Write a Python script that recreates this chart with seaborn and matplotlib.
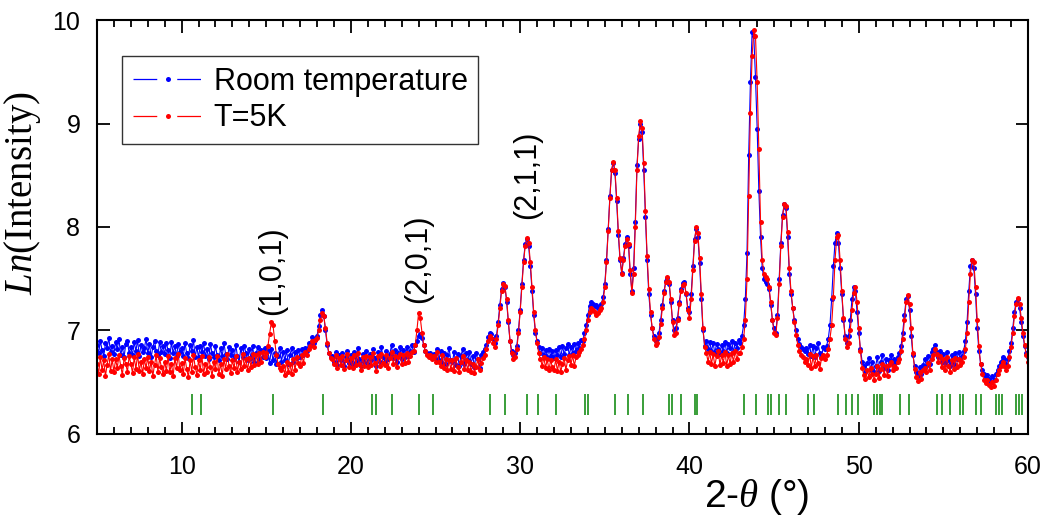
import matplotlib
matplotlib.use("Agg")
import matplotlib.pyplot as plt
import seaborn as sns
import pandas as pd
import numpy as np
from matplotlib.lines import Line2D
from matplotlib.ticker import MultipleLocator

# 2-theta scan, 5 to 60 degrees in 0.1 degree steps
twoTheta = np.linspace(5, 60, 551)

# Ln(Intensity) at room temperature, one row per degree
roomTemp = [
	6.86, 6.78, 6.90, 6.81, 6.75, 6.88, 6.83, 6.93, 6.79, 6.85,
	6.77, 6.89, 6.82, 6.92, 6.76, 6.84, 6.74, 6.87, 6.90, 6.78,
	6.84, 6.76, 6.89, 6.80, 6.91, 6.75, 6.86, 6.79, 6.83, 6.92,
	6.78, 6.87, 6.74, 6.84, 6.90, 6.80, 6.76, 6.89, 6.79, 6.85,
	6.77, 6.88, 6.81, 6.73, 6.89, 6.78, 6.85, 6.75, 6.87, 6.79,
	6.83, 6.75, 6.88, 6.78, 6.73, 6.86, 6.80, 6.91, 6.74, 6.84,
	6.74, 6.85, 6.79, 6.88, 6.75, 6.82, 6.72, 6.87, 6.78, 6.74,
	6.85, 6.76, 6.71, 6.83, 6.75, 6.88, 6.77, 6.72, 6.84, 6.76,
	6.81, 6.72, 6.86, 6.75, 6.70, 6.83, 6.74, 6.85, 6.78, 6.71,
	6.82, 6.73, 6.85, 6.70, 6.78, 6.84, 6.72, 6.81, 6.74, 6.83,
	6.73, 6.80, 6.69, 6.82, 6.71, 6.78, 6.68, 6.75, 6.83, 6.70,
	6.79, 6.71, 6.81, 6.68, 6.76, 6.83, 6.70, 6.79, 6.73, 6.81,
	6.74, 6.82, 6.76, 6.83, 6.80, 6.88, 6.86, 6.94, 6.88, 6.91,
	6.95, 7.04, 7.15, 7.20, 7.14, 7.00, 6.86, 6.78, 6.74, 6.75,
	6.70, 6.79, 6.67, 6.76, 6.71, 6.78, 6.66, 6.74, 6.80, 6.69,
	6.76, 6.67, 6.79, 6.70, 6.83, 6.72, 6.66, 6.77, 6.70, 6.80,
	6.68, 6.77, 6.71, 6.82, 6.73, 6.66, 6.79, 6.70, 6.84, 6.74,
	6.70, 6.80, 6.72, 6.77, 6.86, 6.73, 6.81, 6.70, 6.78, 6.84,
	6.72, 6.81, 6.74, 6.84, 6.75, 6.80, 6.86, 6.79, 6.86, 6.90,
	6.95, 6.97, 6.93, 6.86, 6.80, 6.78, 6.75, 6.78, 6.74, 6.77,
	6.72, 6.82, 6.71, 6.80, 6.69, 6.78, 6.68, 6.76, 6.83, 6.71,
	6.70, 6.79, 6.67, 6.77, 6.66, 6.75, 6.82, 6.68, 6.78, 6.71,
	6.79, 6.68, 6.75, 6.65, 6.78, 6.72, 6.64, 6.76, 6.79, 6.82,
	6.86, 6.94, 6.98, 6.97, 6.92, 6.88, 6.95, 7.08, 7.25, 7.40,
	7.46, 7.42, 7.28, 7.08, 6.90, 6.80, 6.76, 6.78, 6.85, 7.00,
	7.20, 7.45, 7.68, 7.84, 7.88, 7.82, 7.62, 7.38, 7.15, 6.98,
	6.90, 6.84, 6.78, 6.83, 6.76, 6.81, 6.74, 6.82, 6.75, 6.80,
	6.73, 6.81, 6.76, 6.84, 6.74, 6.85, 6.77, 6.83, 6.87, 6.76,
	6.84, 6.78, 6.87, 6.80, 6.88, 6.83, 6.91, 6.90, 6.98, 7.05,
	7.15, 7.24, 7.28, 7.26, 7.24, 7.25, 7.22, 7.24, 7.26, 7.32,
	7.45, 7.68, 7.98, 8.30, 8.55, 8.62, 8.52, 8.25, 7.92, 7.68,
	7.56, 7.70, 7.84, 7.90, 7.82, 7.55, 7.38, 7.60, 8.05, 8.60,
	8.85, 9.00, 8.92, 8.55, 8.10, 7.68, 7.35, 7.15, 7.02, 6.95,
	6.90, 6.92, 6.98, 7.10, 7.25, 7.38, 7.48, 7.51, 7.45, 7.28,
	7.10, 7.00, 7.02, 7.12, 7.28, 7.40, 7.46, 7.47, 7.35, 7.22,
	7.18, 7.35, 7.62, 7.88, 7.98, 7.90, 7.65, 7.30, 7.00, 6.85,
	6.90, 6.82, 6.89, 6.80, 6.88, 6.78, 6.87, 6.82, 6.77, 6.86,
	6.80, 6.89, 6.78, 6.87, 6.83, 6.90, 6.79, 6.88, 6.83, 6.91,
	6.88, 6.95, 7.05, 7.30, 7.75, 8.70, 9.40, 9.88, 9.85, 9.45,
	8.95, 8.35, 7.90, 7.60, 7.50, 7.47, 7.45, 7.40, 7.25, 7.10,
	7.02, 6.98, 7.15, 7.50, 7.85, 8.12, 8.22, 8.18, 7.90, 7.55,
	7.35, 7.22, 7.10, 7.00, 6.92, 6.87, 6.84, 6.82, 6.80, 6.83,
	6.77, 6.86, 6.75, 6.85, 6.74, 6.83, 6.88, 6.78, 6.74, 6.84,
	6.82, 6.85, 6.92, 7.05, 7.30, 7.62, 7.85, 7.94, 7.85, 7.60,
	7.35, 7.10, 6.95, 6.88, 6.95, 7.10, 7.30, 7.42, 7.38, 7.18,
	6.98, 6.82, 6.70, 6.66, 6.60, 6.69, 6.73, 6.62, 6.70, 6.60,
	6.66, 6.74, 6.61, 6.70, 6.76, 6.64, 6.72, 6.62, 6.71, 6.76,
	6.68, 6.72, 6.70, 6.74, 6.78, 6.85, 6.98, 7.15, 7.30, 7.33,
	7.20, 6.95, 6.76, 6.66, 6.60, 6.56, 6.65, 6.58, 6.67, 6.72,
	6.66, 6.75, 6.68, 6.79, 6.82, 6.86, 6.79, 6.74, 6.80, 6.70,
	6.77, 6.69, 6.79, 6.71, 6.66, 6.76, 6.68, 6.78, 6.72, 6.79,
	6.72, 6.75, 6.80, 6.90, 7.08, 7.38, 7.62, 7.68, 7.60, 7.35,
	7.02, 6.80, 6.68, 6.62, 6.58, 6.55, 6.57, 6.53, 6.50, 6.56,
	6.52, 6.58, 6.62, 6.66, 6.70, 6.74, 6.72, 6.68, 6.72, 6.80,
	6.88, 7.02, 7.18, 7.28, 7.30, 7.22, 7.08, 6.95, 6.85, 6.78,
	6.74,
]

# Ln(Intensity) at T = 5 K
lowTemp = [
	6.68, 6.58, 6.74, 6.62, 6.71, 6.56, 6.67, 6.77, 6.61, 6.72,
	6.60, 6.72, 6.64, 6.76, 6.66, 6.57, 6.73, 6.68, 6.60, 6.75,
	6.68, 6.59, 6.74, 6.63, 6.77, 6.61, 6.70, 6.58, 6.72, 6.64,
	6.74, 6.61, 6.70, 6.56, 6.67, 6.76, 6.60, 6.73, 6.65, 6.58,
	6.70, 6.61, 6.75, 6.60, 6.68, 6.56, 6.73, 6.64, 6.77, 6.62,
	6.69, 6.58, 6.73, 6.63, 6.55, 6.71, 6.60, 6.76, 6.65, 6.57,
	6.71, 6.62, 6.75, 6.58, 6.68, 6.60, 6.74, 6.65, 6.56, 6.70,
	6.63, 6.75, 6.58, 6.68, 6.56, 6.72, 6.63, 6.77, 6.66, 6.59,
	6.71, 6.64, 6.75, 6.60, 6.70, 6.63, 6.77, 6.66, 6.72, 6.62,
	6.73, 6.65, 6.77, 6.67, 6.76, 6.68, 6.78, 6.70, 6.79, 6.74,
	6.78, 6.85, 6.97, 7.08, 7.05, 6.90, 6.76, 6.68, 6.64, 6.62,
	6.66, 6.57, 6.70, 6.60, 6.68, 6.58, 6.72, 6.62, 6.74, 6.69,
	6.66, 6.76, 6.69, 6.79, 6.76, 6.82, 6.85, 6.90, 6.84, 6.91,
	6.93, 7.00, 7.10, 7.17, 7.14, 7.02, 6.88, 6.78, 6.73, 6.72,
	6.68, 6.76, 6.64, 6.73, 6.67, 6.75, 6.63, 6.71, 6.77, 6.65,
	6.73, 6.64, 6.76, 6.67, 6.78, 6.68, 6.62, 6.74, 6.66, 6.75,
	6.65, 6.74, 6.67, 6.78, 6.69, 6.61, 6.75, 6.66, 6.77, 6.69,
	6.67, 6.76, 6.64, 6.73, 6.79, 6.68, 6.75, 6.65, 6.74, 6.77,
	6.68, 6.76, 6.69, 6.78, 6.70, 6.75, 6.79, 6.80, 6.86, 7.00,
	7.17, 7.12, 6.98, 6.86, 6.80, 6.76, 6.74, 6.76, 6.72, 6.75,
	6.70, 6.79, 6.70, 6.66, 6.76, 6.64, 6.72, 6.62, 6.71, 6.63,
	6.71, 6.61, 6.73, 6.65, 6.60, 6.70, 6.75, 6.63, 6.71, 6.62,
	6.70, 6.60, 6.68, 6.59, 6.65, 6.72, 6.62, 6.69, 6.73, 6.76,
	6.82, 6.90, 6.95, 6.93, 6.88, 6.84, 6.92, 7.05, 7.22, 7.38,
	7.45, 7.43, 7.30, 7.10, 6.90, 6.78, 6.72, 6.74, 6.82, 6.98,
	7.18, 7.42, 7.66, 7.82, 7.89, 7.85, 7.66, 7.42, 7.18, 7.00,
	6.88, 6.78, 6.72, 6.66, 6.74, 6.64, 6.72, 6.62, 6.71, 6.65,
	6.62, 6.72, 6.61, 6.70, 6.60, 6.68, 6.73, 6.62, 6.71, 6.75,
	6.67, 6.76, 6.66, 6.74, 6.76, 6.79, 6.82, 6.86, 6.92, 7.00,
	7.10, 7.18, 7.22, 7.20, 7.18, 7.15, 7.17, 7.20, 7.22, 7.28,
	7.42, 7.66, 7.96, 8.28, 8.55, 8.63, 8.55, 8.28, 7.96, 7.70,
	7.55, 7.68, 7.82, 7.88, 7.84, 7.58, 7.36, 7.55, 8.00, 8.55,
	8.88, 9.02, 8.96, 8.62, 8.15, 7.72, 7.40, 7.18, 7.02, 6.92,
	6.86, 6.88, 6.94, 7.06, 7.22, 7.36, 7.47, 7.52, 7.47, 7.30,
	7.08, 6.96, 6.98, 7.10, 7.26, 7.38, 7.44, 7.45, 7.36, 7.20,
	7.12, 7.30, 7.58, 7.86, 8.00, 7.94, 7.70, 7.35, 7.02, 6.84,
	6.78, 6.70, 6.79, 6.68, 6.77, 6.66, 6.75, 6.80, 6.67, 6.76,
	6.69, 6.79, 6.66, 6.76, 6.68, 6.78, 6.70, 6.80, 6.72, 6.78,
	6.78, 6.84, 6.92, 7.10, 7.50, 8.30, 9.10, 9.65, 9.90, 9.85,
	9.40, 8.75, 8.05, 7.68, 7.55, 7.52, 7.50, 7.42, 7.28, 7.10,
	6.98, 6.96, 7.12, 7.45, 7.82, 8.10, 8.22, 8.20, 7.95, 7.60,
	7.38, 7.22, 7.08, 6.96, 6.86, 6.80, 6.76, 6.74, 6.70, 6.72,
	6.67, 6.77, 6.64, 6.75, 6.66, 6.76, 6.69, 6.63, 6.73, 6.76,
	6.72, 6.76, 6.82, 6.92, 7.05, 7.32, 7.68, 7.90, 7.92, 7.68,
	7.38, 7.12, 6.92, 6.84, 6.88, 7.00, 7.20, 7.36, 7.42, 7.28,
	7.02, 6.80, 6.64, 6.57, 6.53, 6.62, 6.55, 6.64, 6.58, 6.52,
	6.58, 6.66, 6.54, 6.63, 6.68, 6.57, 6.66, 6.56, 6.67, 6.70,
	6.62, 6.66, 6.64, 6.70, 6.72, 6.80, 6.92, 7.10, 7.28, 7.34,
	7.26, 7.02, 6.78, 6.63, 6.55, 6.51, 6.60, 6.53, 6.62, 6.64,
	6.60, 6.69, 6.62, 6.72, 6.76, 6.82, 6.77, 6.70, 6.75, 6.65,
	6.72, 6.62, 6.74, 6.66, 6.60, 6.71, 6.63, 6.73, 6.65, 6.72,
	6.67, 6.70, 6.74, 6.82, 6.98, 7.28, 7.55, 7.68, 7.66, 7.42,
	7.10, 6.85, 6.68, 6.58, 6.52, 6.49, 6.52, 6.47, 6.45, 6.50,
	6.46, 6.52, 6.58, 6.62, 6.66, 6.70, 6.66, 6.62, 6.66, 6.74,
	6.84, 6.98, 7.14, 7.26, 7.31, 7.26, 7.12, 6.98, 6.86, 6.76,
	6.70,
]

# Bragg reflection positions (green markers)
braggPeaks = [10.59, 11.12, 15.38, 18.33, 21.23, 21.46, 22.40, 24.03, 24.83,
	28.21, 29.10, 30.38, 31.07, 32.11, 33.82, 34.02, 35.60, 36.35, 37.23,
	38.79, 38.94, 39.48, 40.30, 40.46, 43.24, 43.91, 44.65, 44.79, 45.30,
	45.73, 47.01, 47.35, 48.79, 49.22, 49.61, 49.97, 50.91, 51.09, 51.25,
	51.38, 52.43, 52.98, 54.60, 54.89, 55.38, 56.01, 56.17, 56.90, 57.21,
	58.10, 58.28, 58.47, 59.28, 59.48, 59.66]

# Miller index labels and where they sit
peakLabels = ["(1,0,1)", "(2,0,1)", "(2,1,1)"]
peakLabelX = [15.34, 23.96, 30.40]
peakLabelY = [7.58, 7.69, 8.50]

seriesNames = ["Room temperature", "T=5K"]
seriesColors = ["#0000ff", "#ff0000"]

n = len(twoTheta)
data = pd.DataFrame({
	"twoTheta": np.concatenate([twoTheta, twoTheta]),
	"lnI": roomTemp[:n] + lowTemp[:n],
	"series": [seriesNames[0]] * n + [seriesNames[1]] * n,
})

sns.set_theme(style="ticks")
plt.rcParams["font.family"] = ["Liberation Sans", "DejaVu Sans"]
plt.rcParams["mathtext.fontset"] = "custom"
plt.rcParams["mathtext.rm"] = "Liberation Serif"
plt.rcParams["mathtext.it"] = "Liberation Serif:italic"
plt.rcParams["mathtext.bf"] = "Liberation Serif:bold"
for key in ["text.color", "axes.labelcolor", "xtick.color", "ytick.color", "axes.edgecolor"]:
	plt.rcParams[key] = "black"

fig = plt.figure(figsize=(10.46, 5.24), dpi=100)
ax = fig.add_axes([0.0927, 0.1718, 0.8901, 0.7900])

sns.lineplot(
	data=data, x="twoTheta", y="lnI", hue="series",
	hue_order=seriesNames, palette=seriesColors,
	marker="o", markersize=3.6, markeredgewidth=0, linewidth=0.8,
	estimator=None, legend=False, ax=ax,
)

ax.vlines(braggPeaks, 6.18, 6.39, color="#2a962a", linewidth=1.3)

for label, lx, ly in zip(peakLabels, peakLabelX, peakLabelY):
	ax.text(lx, ly, label, rotation=90, ha="center", va="center", fontsize=22)

ax.set_xlim(5, 60)
ax.set_ylim(6, 10)
ax.xaxis.set_major_locator(MultipleLocator(10))
ax.xaxis.set_minor_locator(MultipleLocator(1))
ax.yaxis.set_major_locator(MultipleLocator(1))
ax.tick_params(which="both", direction="in", top=True, right=True, width=1.3, color="black")
ax.tick_params(which="major", length=9)
ax.tick_params(which="minor", length=5)
ax.tick_params(axis="y", labelsize=18, pad=12)
ax.tick_params(axis="x", labelsize=18, pad=15)
for lab in ax.get_xticklabels():
	lab.set_family(["Liberation Sans Narrow", "Liberation Sans"])
for spine in ax.spines.values():
	spine.set_linewidth(1.5)
	spine.set_color("black")

ax.set_xlabel(r"2-$\theta$ (°)", fontsize=28)
ax.xaxis.set_label_coords(0.709, -0.105)
ax.set_ylabel(r"$Ln$(Intensity)", fontsize=28, family=["Liberation Serif", "DejaVu Serif"])
ax.yaxis.set_label_coords(-0.058, 0.583)

# legend entries drawn as line - dot - line
handles = [Line2D([], [], color=c, marker="o", markersize=3.6, markeredgewidth=0,
	linewidth=0.9, linestyle=(0, (19, 16))) for c in seriesColors]
leg = ax.legend(handles, seriesNames, loc="upper left", bbox_to_anchor=(0.027, 0.912),
	borderaxespad=0, fontsize=22, frameon=True, fancybox=False, handlelength=2.3,
	handletextpad=0.35, labelspacing=0.2, borderpad=0.35)
leg.get_frame().set_edgecolor("black")
leg.get_frame().set_linewidth(1.0)

plt.savefig("out.png", dpi=100)
